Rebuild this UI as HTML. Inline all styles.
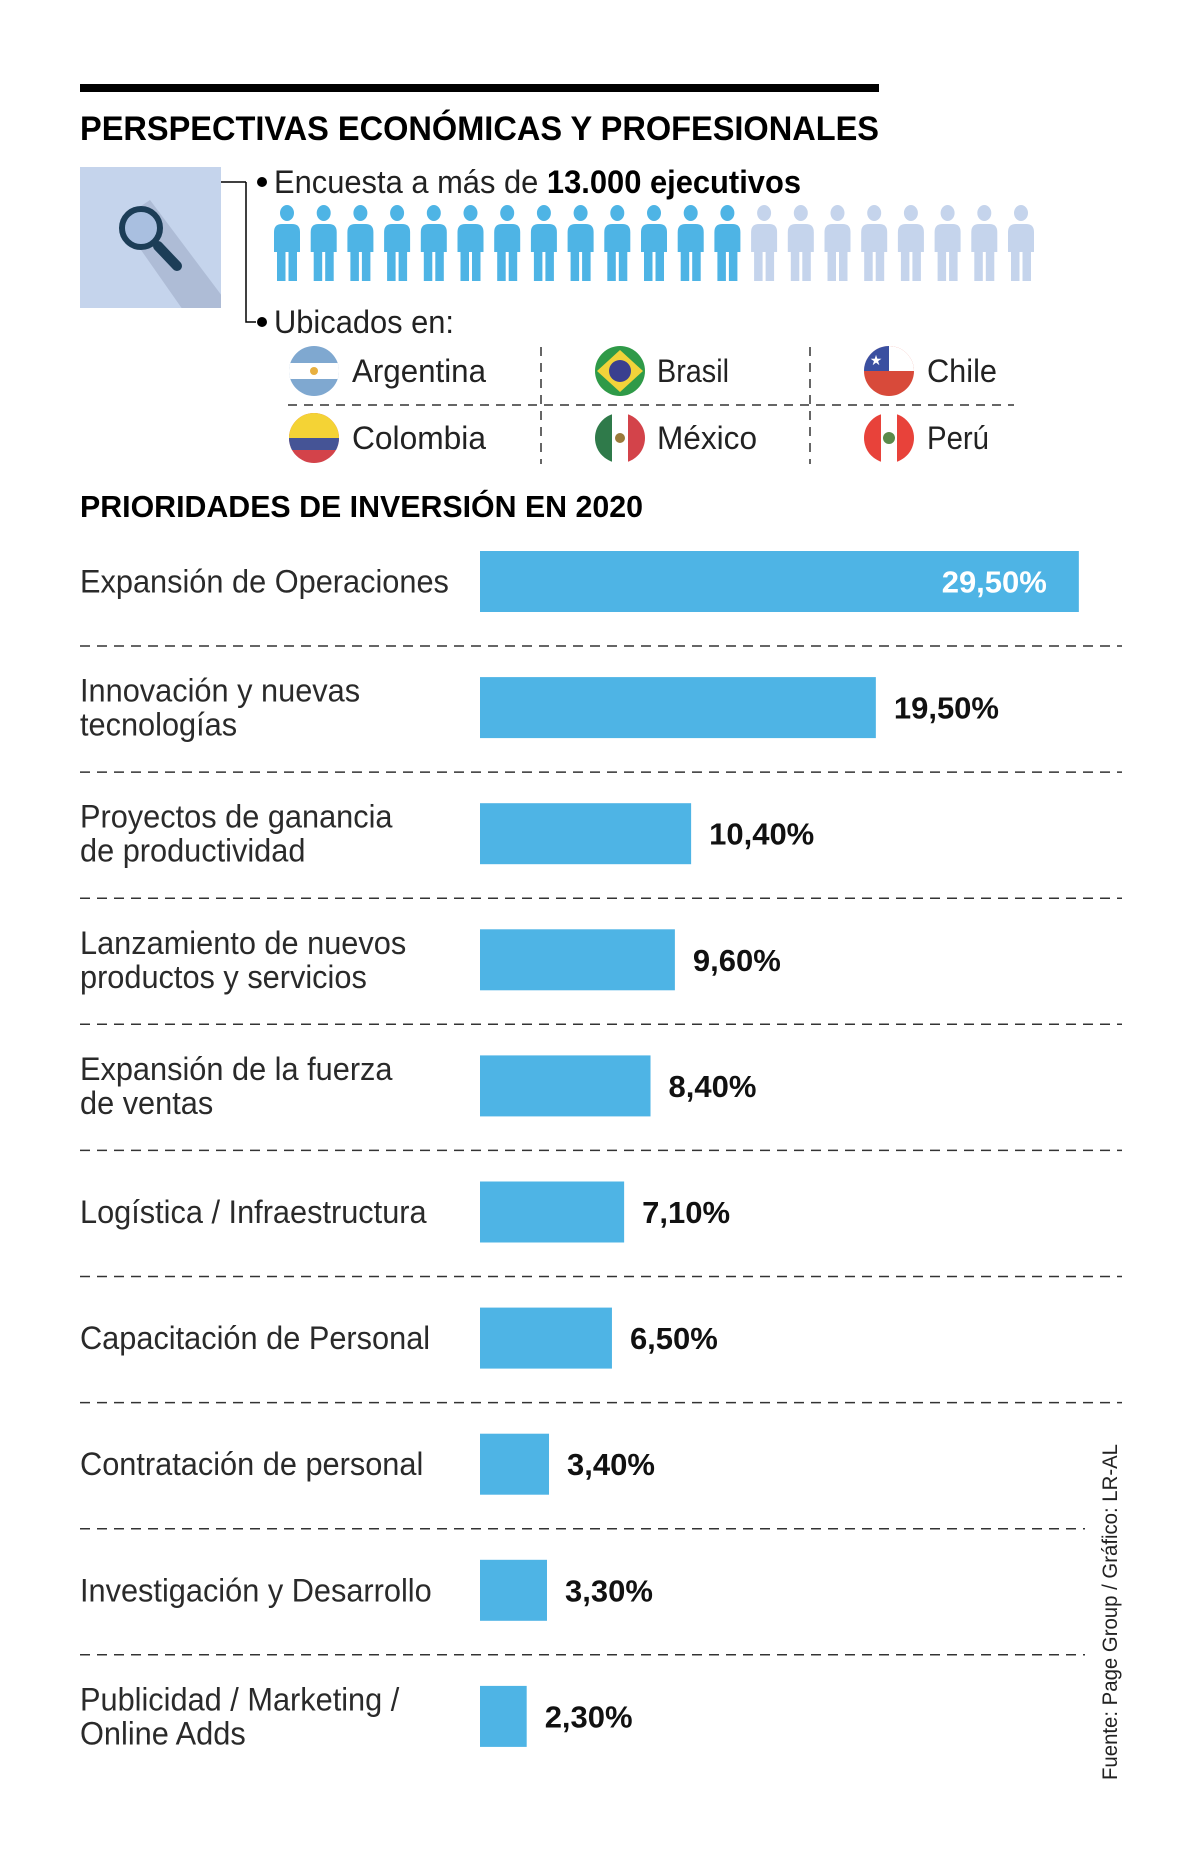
<!DOCTYPE html>
<html><head><meta charset="utf-8">
<style>
html,body{margin:0;padding:0;background:#fff;}
svg{display:block;}
text{font-family:"Liberation Sans Narrow","Liberation Sans",sans-serif;}
</style></head>
<body>
<svg id="chart" width="1200" height="1862" viewBox="0 0 1200 1862" xmlns="http://www.w3.org/2000/svg">
<defs>
<clipPath id="cf1"><circle cx="314" cy="371" r="25"/></clipPath>
<clipPath id="cf2"><circle cx="620" cy="371" r="25"/></clipPath>
<clipPath id="cf3"><circle cx="889" cy="371" r="25"/></clipPath>
<clipPath id="cf4"><circle cx="314" cy="438" r="25"/></clipPath>
<clipPath id="cf5"><circle cx="620" cy="438" r="25"/></clipPath>
<clipPath id="cf6"><circle cx="889" cy="438" r="25"/></clipPath>
<clipPath id="ci"><rect x="80" y="167" width="141" height="141"/></clipPath>
</defs>
<rect x="80" y="84" width="799" height="8" fill="#000"/>
<text x="80" y="140" font-size="34" font-weight="bold" textLength="799" lengthAdjust="spacingAndGlyphs">PERSPECTIVAS ECONÓMICAS Y PROFESIONALES</text>

<g>
<rect x="80" y="167" width="141" height="141" fill="#c5d4ec"/>
<polygon clip-path="url(#ci)" points="120,220 150,200 240,320 190,320" fill="#aebcd6"/>
<line x1="158" y1="246" x2="177" y2="266" stroke="#1c3d57" stroke-width="10" stroke-linecap="round"/>
<circle cx="141" cy="228" r="19" fill="#a9bfe0" stroke="#1c3d57" stroke-width="6"/>
</g>
<path d="M221 182 H246 M246 182 V322 H256" stroke="#000" stroke-width="1.5" fill="none"/>
<circle cx="262" cy="182" r="5" fill="#000"/>
<circle cx="262" cy="322" r="5" fill="#000"/>
<text x="274" y="193" font-size="32" fill="#222" textLength="527" lengthAdjust="spacingAndGlyphs">Encuesta a más de <tspan font-weight="bold" fill="#000">13.000 ejecutivos</tspan></text>
<g id="people"></g>
<text x="274" y="333" font-size="32" fill="#222" textLength="180" lengthAdjust="spacingAndGlyphs">Ubicados en:</text>

<g>
<line x1="288" y1="405" x2="1014" y2="405" stroke="#333" stroke-width="1.5" stroke-dasharray="9,7"/>
<line x1="541" y1="347" x2="541" y2="464" stroke="#333" stroke-width="1.5" stroke-dasharray="9,7"/>
<line x1="810" y1="347" x2="810" y2="464" stroke="#333" stroke-width="1.5" stroke-dasharray="9,7"/>
</g>
<g clip-path="url(#cf1)"><rect x="289" y="346" width="50" height="50" fill="#7fa8d0"/><rect x="289" y="363" width="50" height="16" fill="#fff"/><circle cx="314" cy="371" r="4" fill="#e8b040"/></g>
<g clip-path="url(#cf2)"><rect x="595" y="346" width="50" height="50" fill="#2f9a48"/><polygon points="620,350 643,371 620,392 597,371" fill="#f2d33a"/><circle cx="620" cy="371" r="11" fill="#3a3f8f"/></g>
<g clip-path="url(#cf3)"><rect x="864" y="346" width="50" height="50" fill="#d84a3a"/><rect x="864" y="346" width="50" height="25" fill="#fff"/><rect x="864" y="346" width="25" height="25" fill="#3a4fa0"/><text x="876" y="365" font-size="14" fill="#fff" text-anchor="middle">★</text></g>
<g clip-path="url(#cf4)"><rect x="289" y="413" width="50" height="50" fill="#d3434a"/><rect x="289" y="413" width="50" height="25" fill="#f4d335"/><rect x="289" y="438" width="50" height="12" fill="#455496"/></g>
<g clip-path="url(#cf5)"><rect x="595" y="413" width="50" height="50" fill="#fff"/><rect x="595" y="413" width="17" height="50" fill="#2f7a4a"/><rect x="628" y="413" width="17" height="50" fill="#d3434a"/><circle cx="620" cy="438" r="5" fill="#9a7a3a"/></g>
<g clip-path="url(#cf6)"><rect x="864" y="413" width="50" height="50" fill="#fff"/><rect x="864" y="413" width="17" height="50" fill="#e8423a"/><rect x="897" y="413" width="17" height="50" fill="#e8423a"/><circle cx="889" cy="438" r="6" fill="#5a8a4a"/></g>
<g font-size="32" fill="#222">
<text x="352" y="382" textLength="134" lengthAdjust="spacingAndGlyphs">Argentina</text>
<text x="657" y="382" textLength="72" lengthAdjust="spacingAndGlyphs">Brasil</text>
<text x="927" y="382" textLength="70" lengthAdjust="spacingAndGlyphs">Chile</text>
<text x="352" y="449" textLength="134" lengthAdjust="spacingAndGlyphs">Colombia</text>
<text x="657" y="449" textLength="100" lengthAdjust="spacingAndGlyphs">México</text>
<text x="927" y="449" textLength="62" lengthAdjust="spacingAndGlyphs">Perú</text>
</g>

<text x="80" y="517" font-size="31" font-weight="bold" textLength="563" lengthAdjust="spacingAndGlyphs">PRIORIDADES DE INVERSIÓN EN 2020</text>
<g id="bars"></g>
<text transform="translate(1117,1780) rotate(-90)" font-size="21" fill="#222" textLength="336" lengthAdjust="spacingAndGlyphs">Fuente: Page Group / Gráfico: LR-AL</text>
</svg>
<script>
const categories = [
  ["Expansión de Operaciones"],
  ["Innovación y nuevas","tecnologías"],
  ["Proyectos de ganancia","de productividad"],
  ["Lanzamiento de nuevos","productos y servicios"],
  ["Expansión de la fuerza","de ventas"],
  ["Logística / Infraestructura"],
  ["Capacitación de Personal"],
  ["Contratación de personal"],
  ["Investigación y Desarrollo"],
  ["Publicidad / Marketing /","Online Adds"]
];
const values = [29.5, 19.5, 10.4, 9.6, 8.4, 7.1, 6.5, 3.4, 3.3, 2.3];
const valueLabels = ["29,50%","19,50%","10,40%","9,60%","8,40%","7,10%","6,50%","3,40%","3,30%","2,30%"];
const peopleTotal = 21;
const peopleHighlighted = 13;

const NS = "http://www.w3.org/2000/svg";
function mk(tag, attrs, parent){const e=document.createElementNS(NS,tag);for(const k in attrs)e.setAttribute(k,attrs[k]);parent.appendChild(e);return e;}
const x = v => 480 + v * 20.3;
const rowY = i => 581.5 + i * 126.1;

const bars = document.getElementById('bars');
categories.forEach((lines, i) => {
  const cy = rowY(i);
  const g = mk('g', {}, bars);
  
  
  const t = mk('text', {x: 80, 'font-size': 32, fill: '#2a2a2a'}, g);
  
  
  lines.forEach((ln, j) => {
    const ts = mk('tspan', {x: 80, y: (cy + 11 + (lines.length === 2 ? (j === 0 ? -17 : 17) : 0)).toFixed(1)}, t);
    ts.textContent = ln;
    const w = ts.getComputedTextLength();
    if (w > 0) { ts.setAttribute('textLength', (w * 0.96).toFixed(1)); ts.setAttribute('lengthAdjust', 'spacingAndGlyphs'); }
  });
  const r = mk('rect', {x: x(0), y: cy - 30.5, width: x(values[i]) - x(0), height: 61, fill: '#4eb4e5'}, g);
  
  
  const inside = i === 0;
  const vt = mk('text', {x: inside ? x(values[i]) - 32 : x(values[i]) + 18, y: cy + 11, 'font-size': 31, 'font-weight': 'bold',
    fill: inside ? '#fff' : '#111', 'text-anchor': inside ? 'end' : 'start'}, g);
  
  
  vt.textContent = valueLabels[i];
  if (i < categories.length - 1) {
    const dy = cy + 64.5;
    const x2 = dy > 1420 ? 1085 : 1122;
    const d = mk('line', {x1: 80, x2: x2, y1: dy, y2: dy, stroke: '#333', 'stroke-width': 1.5, 'stroke-dasharray': '10,7'}, g);
    
    
  }
});

const people = document.getElementById('people');
for (let i = 0; i < peopleTotal; i++) {
  const cx = 287 + i * 36.7;
  const col = i < peopleHighlighted ? '#4eb4e5' : '#c5d4ec';
  const g = mk('g', {fill: col}, people);
  
  
  mk('ellipse', {cx: cx, cy: 213, rx: 7, ry: 8}, g);
  mk('path', {d: `M${cx-13} 252 V232 Q${cx-13} 224 ${cx-5} 224 H${cx+5} Q${cx+13} 224 ${cx+13} 232 V252 Z`}, g);
  mk('rect', {x: cx - 10, y: 251, width: 8.5, height: 30}, g);
  mk('rect', {x: cx + 1.5, y: 251, width: 8.5, height: 30}, g);
}
</script>
</body></html>
